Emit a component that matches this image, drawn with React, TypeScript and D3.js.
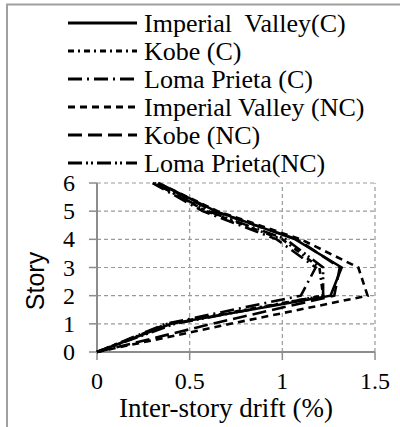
import React from 'react';
import * as d3 from 'd3';

const stories = [0, 1, 2, 3, 4, 5, 6];
const xTicks = [0, 0.5, 1, 1.5];

const seriesNames = [
  'Imperial  Valley(C)',
  'Kobe (C)',
  'Loma Prieta (C)',
  'Imperial Valley (NC)',
  'Kobe (NC)',
  'Loma Prieta(NC)',
];

// drift (%) per story, 0..6
const imperialC = [0, 0.40, 1.26, 1.32, 1.07, 0.64, 0.33];
const kobeC = [0, 0.38, 1.22, 1.20, 1.0, 0.59, 0.31];
const lomaC = [0, 0.37, 1.10, 1.18, 0.97, 0.57, 0.30];
const imperialNC = [0, 0.72, 1.46, 1.41, 1.10, 0.65, 0.33];
const kobeNC = [0, 0.62, 1.28, 1.31, 1.08, 0.63, 0.32];
const lomaNC = [0, 0.42, 1.22, 1.22, 1.02, 0.60, 0.31];

const seriesValues = [imperialC, kobeC, lomaC, imperialNC, kobeNC, lomaNC];
const dashes = ['none', '6,4,2,4', '14,5,2,5', '7,5', '14,6', '14,4,2,3,2,4'];

const App: React.FC = () => {
  const width = 400;
  const height = 427;
  const x = d3.scaleLinear().domain([0, 1.5]).range([97, 375]);
  const y = d3.scaleLinear().domain([0, 6]).range([352, 183]);
  const grey = '#8c8c8c';
  const serif = "'Liberation Serif', 'Times New Roman', serif";
  const line = d3.line<number>()
    .x(d => x(d))
    .y((_, i) => y(stories[i]));

  return (
    <svg width={width} height={height} style={{ position: 'absolute', left: 0, top: 0 }}>
      <rect x={7} y={4.5} width={420} height={440} fill="white" stroke="#a0a0a0" strokeWidth={2} />
      {/* grid */}
      {stories.slice(1).map(s => (
        <line key={'h' + s} x1={x(0)} x2={x(1.5)} y1={y(s)} y2={y(s)}
          stroke="#9a9a9a" strokeWidth={1.2} strokeDasharray="4,3" />
      ))}
      {xTicks.slice(1).map(t => (
        <line key={'v' + t} x1={x(t)} x2={x(t)} y1={y(0)} y2={y(6)}
          stroke="#9a9a9a" strokeWidth={1.2} strokeDasharray="4,3" />
      ))}
      {/* axes */}
      <line x1={x(0)} x2={x(1.5)} y1={y(0)} y2={y(0)} stroke={grey} strokeWidth={2} />
      <line x1={x(0)} x2={x(0)} y1={y(0)} y2={y(6)} stroke={grey} strokeWidth={2} />
      {xTicks.map(t => (
        <g key={'xt' + t}>
          <line x1={x(t)} x2={x(t)} y1={y(0)} y2={y(0) + 8} stroke={grey} strokeWidth={1.5} />
          <text x={x(t)} y={y(0) + 37} textAnchor="middle" fontFamily={serif} fontSize={24}>{String(t)}</text>
        </g>
      ))}
      {stories.map(s => (
        <g key={'yt' + s}>
          <line x1={x(0) - 8} x2={x(0)} y1={y(s)} y2={y(s)} stroke={grey} strokeWidth={1.5} />
          <text x={x(0) - 22} y={y(s) + 8} textAnchor="end" fontFamily={serif} fontSize={24}>{String(s)}</text>
        </g>
      ))}
      {/* series */}
      {seriesValues.map((vals, i) => (
        <path key={'s' + i} d={line(vals) || ''} fill="none" stroke="black" strokeWidth={2.6}
          strokeDasharray={dashes[i]} />
      ))}
      <text x={226} y={417} textAnchor="middle" fontFamily={serif} fontSize={27}>Inter-story drift (%)</text>
      <text transform="translate(44,281) rotate(-90)" textAnchor="middle"
        fontFamily="'Liberation Sans', Arial, sans-serif" fontSize={25}>Story</text>
      {/* legend */}
      {seriesNames.map((name, i) => {
        const cy = 23 + i * 28;
        return (
          <g key={'l' + i}>
            <line x1={68} x2={137} y1={cy} y2={cy} stroke="black" strokeWidth={2.8} strokeDasharray={dashes[i]} />
            <text x={144} y={cy + 9} fontFamily={serif} fontSize={26} style={{ whiteSpace: 'pre' }}>{name}</text>
          </g>
        );
      })}
    </svg>
  );
};

export default App;
